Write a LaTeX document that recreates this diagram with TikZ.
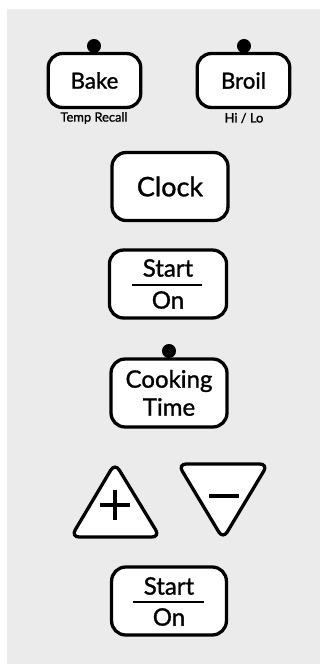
\documentclass[tikz,border=0pt]{standalone}
\usepackage{fontspec}
\setmainfont{Lato}
\newfontfamily\keyfont{Lato}[FakeBold=1.2]
\definecolor{panelgray}{HTML}{EBEBEB}
\begin{document}
\begin{tikzpicture}[x=0.03cm,y=-0.03cm,
    key/.style={draw=black,fill=white,line width=2.8pt,rounded corners=12pt,inner sep=0pt},
    led/.style={circle,fill=black,inner sep=0pt,minimum size=12pt},
    lbl/.style={inner sep=0pt,font=\keyfont\fontsize{20.5}{20.5}\selectfont},
    sublbl/.style={inner sep=0pt,font=\keyfont\fontsize{11}{11}\selectfont}]
    \useasboundingbox (0,0) rectangle (320,664);
    \fill[panelgray] (7,9) rectangle (320,664);
    % bake / broil
    \node[key,minimum width=79pt,minimum height=46pt] (bake) at (94.5,80.5) {};
    \node[lbl,font=\keyfont\fontsize{19}{19}\selectfont] (bakeT) at (bake.center) {Bake};
    \node[led] (bakeLed) at (94,46) {};
    \node[sublbl] (bakeSub) at (94,118) {Temp Recall};
    \node[key,minimum width=79pt,minimum height=46pt] (broil) at (243.5,80.5) {};
    \node[lbl,font=\keyfont\fontsize{19}{19}\selectfont] (broilT) at (broil.center) {Broil};
    \node[led] (broilLed) at (244,46) {};
    \node[sublbl] (broilSub) at (244,118) {Hi / Lo};
    % clock
    \node[key,minimum width=99pt,minimum height=58pt] (clock) at (170,186.5) {};
    \node[lbl,font=\keyfont\fontsize{23}{23}\selectfont] (clockT) at (clock.center) {Clock};
    % start / on
    \node[key,minimum width=100pt,minimum height=58pt] (start1) at (168,284) {};
    \node[lbl] (start1T) at (168,268) {Start};
    \node[lbl] (on1T) at (168,300) {On};
    \coordinate (s1a) at (132,285);
    \coordinate (s1b) at (202,285);
    \draw[line width=2.4pt] (s1a) -- (s1b);
    % cooking time
    \node[key,minimum width=99pt,minimum height=58pt] (cook) at (169,393) {};
    \node[lbl] (cookT) at (169,381) {Cooking};
    \node[lbl] (timeT) at (169,407) {Time};
    \node[led] (cookLed) at (169,351) {};
    % up / down
    \draw[fill=white,line width=2.8pt,rounded corners=7pt]
        (115,537) -- (160,537) -- (115,463) -- (71,537) -- cycle;
    \draw[line width=3pt] (100,505) -- (130,505) (115,490) -- (115,520);
    \draw[fill=white,line width=2.8pt,rounded corners=7pt]
        (223,464) -- (268,464) -- (223,539) -- (178,464) -- cycle;
    \draw[line width=3pt] (209,496) -- (239,496);
    % start / on
    \node[key,minimum width=98pt,minimum height=58pt] (start2) at (169,601) {};
    \node[lbl] (start2T) at (169,586) {Start};
    \node[lbl] (on2T) at (169,617) {On};
    \coordinate (s2a) at (133,602);
    \coordinate (s2b) at (204,602);
    \draw[line width=2.4pt] (s2a) -- (s2b);
\end{tikzpicture}
\end{document}
